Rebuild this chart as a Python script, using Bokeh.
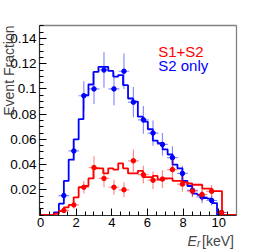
import math
from bokeh.plotting import figure
from bokeh.models import Label, FixedTicker, Range1d, LinearAxis
from bokeh.embed import file_html
from bokeh.resources import INLINE

# ---- data ----
bin_edges = [0.0, 0.75, 1.03, 1.31, 1.58, 1.86, 2.14, 2.41, 2.69, 2.97, 3.25, 3.52, 3.80,
             4.08, 4.36, 4.63, 4.91, 5.19, 5.46, 5.74, 6.02, 6.30, 6.57, 6.85, 7.13,
             7.41, 7.68, 7.96, 8.24, 8.51, 8.79, 9.07, 9.35, 9.62, 9.90, 10.18, 10.46, 11.0]
blue_hist = [0.0, 0.002, 0.009, 0.027, 0.044, 0.060, 0.076, 0.095, 0.1035, 0.1135, 0.1175,
             0.1175, 0.1143, 0.1098, 0.111, 0.103, 0.0924, 0.090, 0.078, 0.074, 0.068,
             0.059, 0.057, 0.052, 0.048, 0.040, 0.037, 0.027, 0.023, 0.017, 0.016,
             0.0135, 0.013, 0.0095, 0.0, 0.0, 0.0]
red_hist = [0.0, 0.001, 0.003, 0.006, 0.008, 0.014, 0.022, 0.023, 0.029, 0.037, 0.037,
            0.033, 0.037, 0.036, 0.041, 0.037, 0.033, 0.033, 0.035, 0.030, 0.030,
            0.031, 0.028, 0.029, 0.029, 0.027, 0.027, 0.026, 0.025, 0.024, 0.024,
            0.021, 0.021, 0.019, 0.019, 0.0, 0.0]

pt_x = [1.31, 1.87, 2.43, 3.0, 3.56, 4.12, 4.68, 5.21, 5.77, 6.31, 6.84, 7.40, 7.96,
        8.52, 9.06, 9.60, 10.15]
pt_xerr = [0.3] * len(pt_x)
blue_y = [0.0154, 0.0508, 0.0946, 0.100, 0.115, 0.100, 0.114, 0.0895, 0.0755, 0.065,
          0.056, 0.0455, 0.033, 0.0196, 0.0143, 0.0115, 0.002]
blue_err = [0.004, 0.008, 0.0115, 0.012, 0.014, 0.013, 0.014, 0.012, 0.011, 0.010,
            0.009, 0.009, 0.006, 0.005, 0.005, 0.004, 0.002]
red_y = [0.0036, 0.008, 0.022, 0.0376, 0.029, 0.022, 0.020, 0.043, 0.032, 0.0276,
         0.0285, 0.036, 0.0245, 0.019, 0.0162, 0.0188, 0.002]
red_err = [0.002, 0.003, 0.005, 0.009, 0.007, 0.006, 0.006, 0.009, 0.007, 0.007,
           0.007, 0.008, 0.006, 0.005, 0.005, 0.005, 0.002]

y_ticks = [0.02, 0.04, 0.06, 0.08, 0.1, 0.12, 0.14]
y_tick_labels = ["0.02", "0.04", "0.06", "0.08", "0.1", "0.12", "0.14"]
y_minor = [0.005 * i for i in range(0, 31)]
x_ticks = [0, 2, 4, 6, 8, 10]
x_minor = [0.5 * i for i in range(0, 23)]

# plot box (data limits)
X_MIN, X_MAX = -0.056, 10.99
Y_MIN, Y_MAX = 0.0, 0.1503

BLUE = "#0000ff"
RED = "#ff0000"
FONT = "Liberation Sans"

p = figure(width=262, height=252, output_backend="svg", toolbar_location=None,
           x_range=Range1d(-2.2434, 12.451), y_range=Range1d(-0.02974, 0.17013),
           x_axis_location=None, y_axis_location=None,
           min_border_left=0, min_border_right=0, min_border_top=0, min_border_bottom=0)
p.grid.visible = False
p.outline_line_color = None
p.background_fill_color = "white"
p.border_fill_color = "white"


def style_axis(ax, size):
    ax.major_tick_in = 7
    ax.major_tick_out = 0
    ax.minor_tick_in = 4
    ax.minor_tick_out = 0
    ax.axis_line_color = "#303030"
    ax.axis_line_width = 1.2
    ax.major_tick_line_color = "black"
    ax.minor_tick_line_color = "black"
    ax.major_label_text_font = FONT
    ax.major_label_text_font_size = size
    ax.major_label_text_color = "black"
    ax.major_label_standoff = 3


yaxis = LinearAxis(fixed_location=X_MIN, bounds=(Y_MIN, Y_MAX),
                   ticker=FixedTicker(ticks=y_ticks, minor_ticks=y_minor),
                   major_label_overrides={t: l for t, l in zip(y_ticks, y_tick_labels)})
style_axis(yaxis, "13.5px")
p.add_layout(yaxis, "left")

xaxis = LinearAxis(fixed_location=Y_MIN, bounds=(X_MIN, X_MAX),
                   ticker=FixedTicker(ticks=x_ticks, minor_ticks=x_minor))
style_axis(xaxis, "13px")
p.add_layout(xaxis, "below")

for loc, fixed, bnds in (("above", Y_MAX, (X_MIN, X_MAX)), ("right", X_MAX, (Y_MIN, Y_MAX))):
    border = LinearAxis(fixed_location=fixed, bounds=bnds, ticker=FixedTicker(ticks=[]),
                        axis_line_color="#808080", axis_line_width=1.3,
                        major_tick_line_color=None, minor_tick_line_color=None,
                        major_label_text_alpha=0)
    p.add_layout(border, loc)

# histograms
p.step(x=bin_edges, y=blue_hist + [0.0], mode="after", line_color=BLUE, line_width=1.8)
p.step(x=bin_edges, y=red_hist + [0.0], mode="after", line_color=RED, line_width=1.8)


# error bars + points
def draw_points(ys, errs, color):
    p.segment(x0=pt_x, x1=pt_x, y0=[y - e for y, e in zip(ys, errs)],
              y1=[y + e for y, e in zip(ys, errs)], line_color=color, line_alpha=0.45,
              line_width=1.2)
    p.segment(x0=[x - d for x, d in zip(pt_x, pt_xerr)],
              x1=[x + d for x, d in zip(pt_x, pt_xerr)],
              y0=ys, y1=ys, line_color=color, line_alpha=0.45, line_width=1.2)
    p.scatter(x=pt_x, y=ys, size=4.5, fill_color=color, line_color=color)


draw_points(blue_y, blue_err, BLUE)
draw_points(red_y, red_err, RED)

# legend-like texts
p.add_layout(Label(x=6.60, y=0.1299, text="S1+S2", text_color=RED, text_font=FONT,
                   text_font_size="15px", text_baseline="alphabetic"))
p.add_layout(Label(x=6.60, y=0.1186, text="S2 only", text_color=BLUE, text_font=FONT,
                   text_font_size="15px", text_baseline="alphabetic"))

# axis titles
p.add_layout(Label(x=8.245, y=-0.0208, text="E", text_font=FONT, text_font_style="italic",
                   text_font_size="14px", text_baseline="alphabetic"))
p.add_layout(Label(x=8.78, y=-0.0228, text="r", text_font=FONT, text_font_style="italic",
                   text_font_size="10px", text_baseline="alphabetic"))
p.add_layout(Label(x=9.06, y=-0.0208, text="[keV]", text_font=FONT,
                   text_font_size="14px", text_baseline="alphabetic"))
p.add_layout(Label(x=-2.2, y=Y_MAX, text="Event Fraction", text_font=FONT,
                   text_font_size="14px", angle=math.pi / 2, text_align="right",
                   text_baseline="top"))

open("out.html", "w").write(file_html(p, INLINE))
